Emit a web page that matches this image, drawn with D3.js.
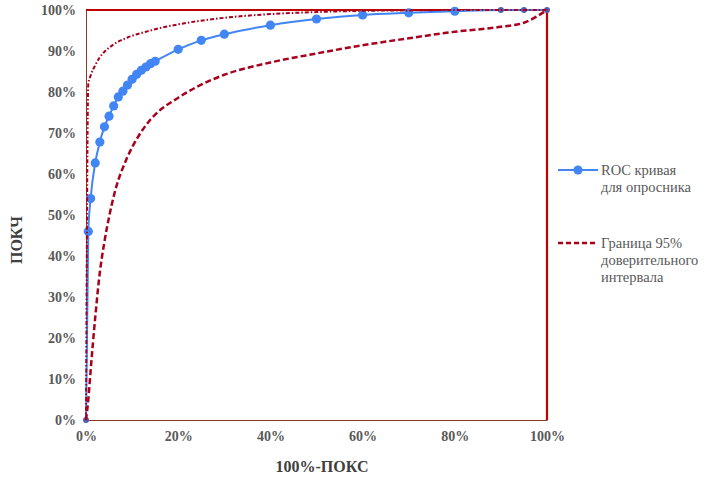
<!DOCTYPE html>
<html><head><meta charset="utf-8">
<script src="https://cdn.jsdelivr.net/npm/d3@7"></script>
<style>body{margin:0;background:#fff}svg{display:block}</style>
</head><body>
<script>
const fpr = [0,0.5,1,2,3,4,5,6,7,8,9,10,11,12,13,14,15,20,25,30,40,50,60,70,80,90,95,100];
const rocTpr = [0,46,54,62.7,67.8,71.5,74.1,76.6,78.8,80.2,81.7,83.1,84.3,85.3,86.1,86.9,87.5,90.4,92.6,94.1,96.3,97.8,98.8,99.3,99.7,100,100,100];
const lowerTpr = [0,5,12,25,36,43.5,49.5,54.5,58.5,61.5,64.2,66.5,68.5,70.3,71.9,73.3,74.5,78.6,81.8,84.2,87.2,89.4,91.4,93.1,94.7,95.9,96.9,100];
const upperTpr = [0,82,84,86.5,88.5,89.8,90.8,91.6,92.3,92.8,93.3,93.7,94.1,94.4,94.7,95,95.3,96.5,97.4,98.1,99,99.5,99.8,99.9,100,100,100,100];
const xTicks = [0,20,40,60,80,100];
const yTicks = [0,10,20,30,40,50,60,70,80,90,100];
const legendLabels = [["ROC кривая","для опросника"],["Граница 95%","доверительного","интервала"]];

const W=709,H=482;
const svg=d3.select("body").append("svg").attr("width",W).attr("height",H);
const x=d3.scaleLinear().domain([0,100]).range([86,547]);
const y=d3.scaleLinear().domain([0,100]).range([420,10]);
const font="'Liberation Serif','Times New Roman',serif";
const blue="#4285F4", red="#C00000", dred="#A8001C";

// axes
const xAxis=svg.append("g").attr("transform","translate(0,420)")
  .call(d3.axisBottom(x).tickValues(xTicks).tickFormat(d=>d+"%").tickSize(0).tickPadding(11));
const yAxis=svg.append("g").attr("transform","translate(86,0)")
  .call(d3.axisLeft(y).tickValues(yTicks).tickFormat(d=>d+"%").tickSize(0).tickPadding(10));
[xAxis,yAxis].forEach(a=>{
  a.attr("font-family",null).attr("font-size",null);
  a.select(".domain").attr("stroke","#8B3A2A").attr("stroke-width",1);
  a.selectAll("text").style("font-family",font).style("font-size","14px").style("font-weight","bold").attr("fill","#595959");
});
// top and right frame
svg.append("line").attr("x1",x(0)).attr("x2",x(100)).attr("y1",y(100)).attr("y2",y(100)).attr("stroke",red).attr("stroke-width",2.2);
svg.append("line").attr("x1",x(100)).attr("x2",x(100)).attr("y1",y(100)).attr("y2",y(0)).attr("stroke",red).attr("stroke-width",2.2);

const line=(arr)=>d3.line().x((d,i)=>x(fpr[i])).y((d,i)=>y(arr[i])).curve(d3.curveMonotoneX)(arr);

// ROC
svg.append("path").attr("d",line(rocTpr)).attr("fill","none").attr("stroke",blue).attr("stroke-width",2);
svg.append("g").selectAll("circle").data(rocTpr).join("circle")
  .attr("cx",(d,i)=>x(fpr[i])).attr("cy",d=>y(d))
  .attr("r",(d,i)=>(d===0||fpr[i]>=90)?3:4.6)
  .attr("fill",(d,i)=>(d===0||fpr[i]>=90)?"#4F5FB0":blue);

// CI curves
svg.append("path").attr("d",line(lowerTpr)).attr("fill","none").attr("stroke",dred).attr("stroke-width",2.5).attr("stroke-dasharray","6,3");
svg.append("path").attr("d",line(upperTpr)).attr("fill","none").attr("stroke",dred).attr("stroke-width",2).attr("stroke-dasharray","4,2,1.5,2");

// axis titles
svg.append("text").attr("x",322).attr("y",472).attr("text-anchor","middle")
  .style("font-family",font).style("font-size","16px").style("font-weight","bold").attr("fill","#404040").text("100%-ПОКС");
svg.append("text").attr("transform","translate(22,240) rotate(-90)").attr("text-anchor","middle")
  .style("font-family",font).style("font-size","16px").style("font-weight","bold").attr("fill","#404040").text("ПОКЧ");

// legend
const lg=svg.append("g");
lg.append("line").attr("x1",558).attr("x2",598).attr("y1",170).attr("y2",170).attr("stroke",blue).attr("stroke-width",2);
lg.append("circle").attr("cx",578).attr("cy",170).attr("r",4.6).attr("fill",blue);
lg.append("line").attr("x1",558).attr("x2",598).attr("y1",243).attr("y2",243).attr("stroke",dred).attr("stroke-width",2.5).attr("stroke-dasharray","5,3");
const ly=[175,248];
legendLabels.forEach((lines,k)=>{
  lines.forEach((t,j)=>{
    lg.append("text").attr("x",601).attr("y",ly[k]+j*17)
      .style("font-family",font).style("font-size","14.5px").attr("fill","#595959").text(t);
  });
});
</script>
</body></html>
